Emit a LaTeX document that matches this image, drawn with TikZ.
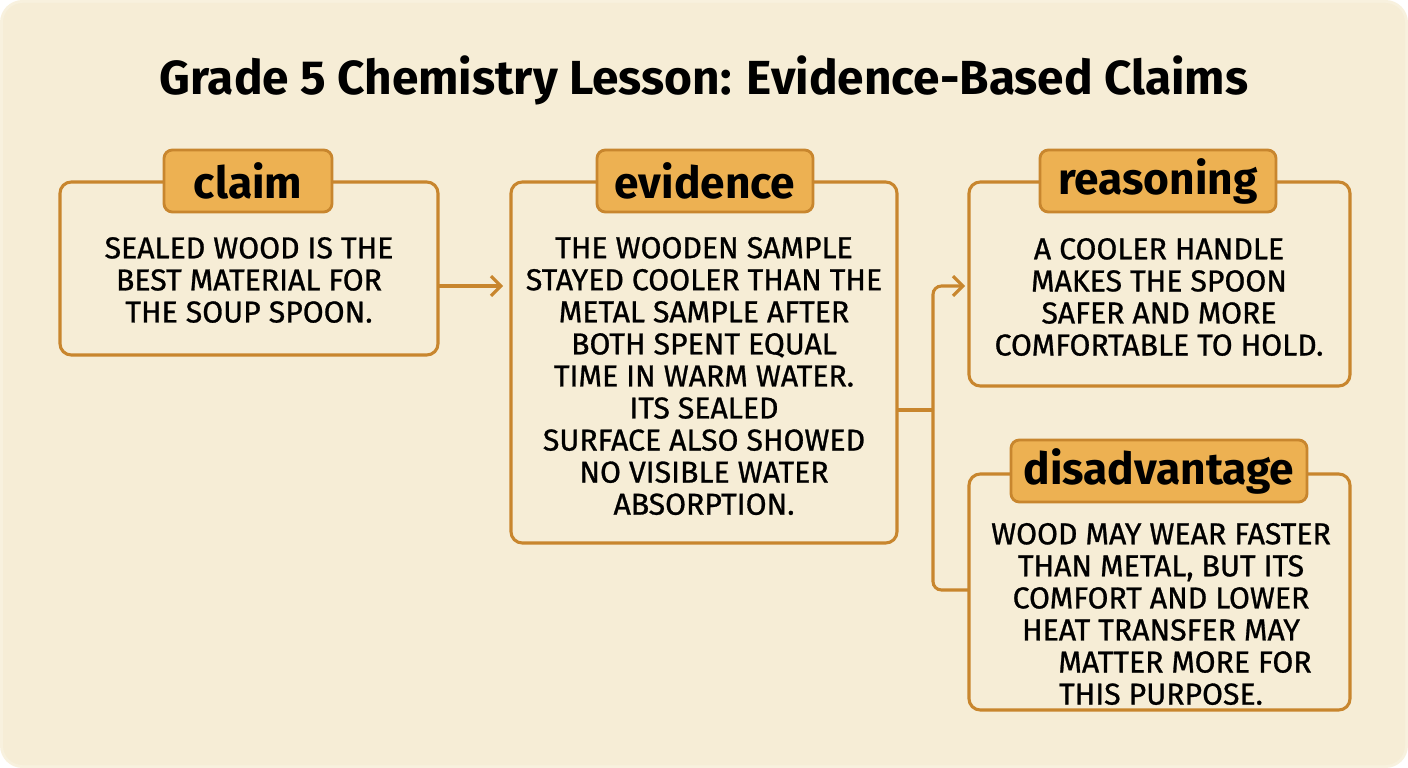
\documentclass[tikz,border=0pt]{standalone}
\usepackage{fontspec}
\setmainfont{Fira Sans}
\usetikzlibrary{positioning, arrows.meta}
\definecolor{paper}{HTML}{F6EDD6}
\definecolor{edge}{HTML}{C8862E}
\definecolor{tagfill}{HTML}{EDB152}
\tikzset{
  panel/.style={draw=edge, line width=2.2pt, rounded corners=8pt, fill=paper},
  tag/.style={draw=edge, line width=2pt, rounded corners=6pt, fill=tagfill,
    minimum height=1.55cm, font=\fontsize{31.5}{34}\selectfont\bfseries},
  body/.style={align=center, font=\fontsize{21.5}{22.8}\selectfont\addfontfeatures{FakeBold=0.9}},
  link/.style={draw=edge, line width=2.2pt, rounded corners=6pt}
}
\begin{document}
\begin{tikzpicture}[x=0.025cm, y=-0.025cm]
\useasboundingbox (0,0) rectangle (1408,768);
\fill[paper!80!white, rounded corners=16pt] (0,0) rectangle (1408,768);
\fill[paper, rounded corners=14pt] (3,3) rectangle (1405,765);

\node[font=\fontsize{34}{38}\selectfont\bfseries] (title) at (704,80) {Grade 5 Chemistry Lesson: Evidence-Based Claims};

% panels
\draw[panel] (60,182) rectangle (438,355);
\draw[panel] (511,182) rectangle (897,543);
\draw[panel] (969,182) rectangle (1350,386);
\draw[panel] (969,474) rectangle (1350,710);

\node[tag, minimum width=4.2cm] (claimtag) at (248,181) {claim};
\node[tag, minimum width=5.4cm] (evidtag) at (705,181) {evidence};
\node[tag, minimum width=5.9cm] (reastag) at (1158,181) {reasoning};
\node[tag, minimum width=7.4cm] (disatag) at (1159,471) {disadvantage};

\node[body] (claim) at (249,280) {SEALED WOOD IS THE\\BEST MATERIAL FOR\\THE SOUP SPOON.};
\node[body] (evid) at (704,376) {THE WOODEN SAMPLE\\STAYED COOLER THAN THE\\METAL SAMPLE AFTER\\BOTH SPENT EQUAL\\TIME IN WARM WATER.\\ITS SEALED\\SURFACE ALSO SHOWED\\NO VISIBLE WATER\\ABSORPTION.};
\node[body] (reas) at (1159,297) {A COOLER HANDLE\\MAKES THE SPOON\\SAFER AND MORE\\COMFORTABLE TO HOLD.};
\node[body] (disa) at (1161,614) {WOOD MAY WEAR FASTER\\THAN METAL, BUT ITS\\COMFORT AND LOWER\\HEAT TRANSFER MAY\\\hspace*{1.2cm}MATTER MORE FOR\\THIS PURPOSE.};

% connectors
\coordinate (claimR) at (438,286);
\coordinate (evidL) at (503,286);
\coordinate (evidR) at (897,410);
\coordinate (fork) at (933,410);
\coordinate (reasL) at (965,286);
\coordinate (disaL) at (969,590);
\draw[link, ->, >={Straight Barb[length=7pt,width=14pt]}] (claimR) -- (evidL);
\draw[link] (evidR) -- (fork);
\draw[link, ->, >={Straight Barb[length=7pt,width=14pt]}] (fork) |- (reasL);
\draw[link] (fork) |- (disaL);
\end{tikzpicture}
\end{document}
